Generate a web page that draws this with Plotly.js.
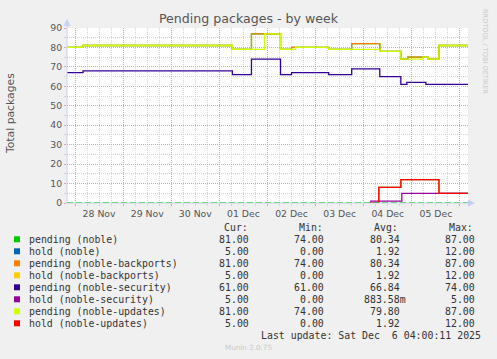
<!DOCTYPE html>
<html><head><meta charset="utf-8">
<script src="https://cdn.plot.ly/plotly-3.0.1.min.js"></script>
<style>html,body{margin:0;padding:0;background:#f0f0f0;}</style>
</head><body><div id="chart" style="width:497px;height:359px;"></div>
<script>
// ---------- data ----------
const seriesNames = ['pending (noble)', 'hold (noble)', 'pending (noble-backports)', 'hold (noble-backports)',
  'pending (noble-security)', 'hold (noble-security)', 'pending (noble-updates)', 'hold (noble-updates)'];

const pendingNobleTimes = ['2025-11-27 20:00','2025-11-28 04:00','2025-12-01 06:30','2025-12-01 16:00','2025-12-02 06:30','2025-12-02 12:00','2025-12-03 06:30','2025-12-03 18:00','2025-12-04 08:00','2025-12-04 18:30','2025-12-04 22:00','2025-12-05 08:00','2025-12-05 13:30','2025-12-06 04:00'];
const pendingNobleValues = [80,81,79,87,79,80,79,82,78,74,75,74,81,81];

const pendingBackportsTimes = ['2025-11-27 20:00','2025-11-28 04:00','2025-12-01 06:30','2025-12-01 16:00','2025-12-02 06:30','2025-12-02 12:00','2025-12-03 06:30','2025-12-03 18:00','2025-12-04 08:00','2025-12-04 18:30','2025-12-04 22:00','2025-12-05 08:00','2025-12-05 13:30','2025-12-06 04:00'];
const pendingBackportsValues = [80,81,79,87,79,80,79,82,78,74,75,74,81,81];

const pendingSecurityTimes = ['2025-11-27 20:00','2025-11-28 04:00','2025-12-01 06:30','2025-12-01 16:00','2025-12-02 06:30','2025-12-02 12:00','2025-12-03 06:30','2025-12-03 18:00','2025-12-04 08:00','2025-12-04 18:30','2025-12-04 21:30','2025-12-05 07:00','2025-12-06 04:00'];
const pendingSecurityValues = [67,68,66,74,66,67,66,69,65,61,62,61,61];

const pendingUpdatesTimes = ['2025-11-27 20:00','2025-11-28 04:00','2025-12-01 06:30','2025-12-01 22:30','2025-12-02 06:30','2025-12-02 14:00','2025-12-03 06:30','2025-12-04 08:00','2025-12-04 18:30','2025-12-05 05:30','2025-12-05 08:00','2025-12-05 13:30','2025-12-06 04:00'];
const pendingUpdatesValues = [80,81,79,87,79,80,79,78,74,75,74,81,81];

const holdNobleTimes = ['2025-12-04 03:00','2025-12-04 07:30','2025-12-04 18:30','2025-12-05 13:30','2025-12-06 04:00'];
const holdNobleValues = [0,8,12,5,5];
const holdBackportsTimes = ['2025-12-04 03:00','2025-12-04 07:30','2025-12-04 18:30','2025-12-05 13:30','2025-12-06 04:00'];
const holdBackportsValues = [0,8,12,5,5];
const holdUpdatesTimes = ['2025-12-04 03:00','2025-12-04 07:30','2025-12-04 18:30','2025-12-05 13:30','2025-12-06 04:00'];
const holdUpdatesValues = [0,8,12,5,5];
const holdSecurityTimes = ['2025-12-04 03:00','2025-12-04 03:30','2025-12-04 19:00','2025-12-06 04:00'];
const holdSecurityValues = [0,1,5,5];

const curValues = [81,5,81,5,61,5,81,5];
const minValues = [74,0,74,0,61,0,74,0];
const avgValues = [80.34,1.92,80.34,1.92,66.84,0.88358,79.80,1.92];
const maxValues = [87,12,87,12,74,5,87,12];
const lastUpdate = 'Sat Dec\u00a0 6 04:00:11 2025';
const xRange = ['2025-11-27 20:00','2025-12-06 04:00'];

// ---------- styles ----------
const seriesColors = ['#00cc00','#0066b3','#ff8000','#ffcc00','#330099','#990099','#ccff00','#ff0000'];
const seriesTimes = [pendingNobleTimes, holdNobleTimes, pendingBackportsTimes, holdBackportsTimes, pendingSecurityTimes, holdSecurityTimes, pendingUpdatesTimes, holdUpdatesTimes];
const seriesValues = [pendingNobleValues, holdNobleValues, pendingBackportsValues, holdBackportsValues, pendingSecurityValues, holdSecurityValues, pendingUpdatesValues, holdUpdatesValues];

const W = 497, H = 359, L = 67, R = 29, T = 28, B = 156;
const PW = W - L - R, PH = H - T - B;
const px = x => (x - L) / PW;
const py = y => (H - B - y) / PH;

const MGRID = '#e4a4a4', GRID = '#d4d4d4', AXIS = '#c8cff4';
const mono = 'DejaVu Sans Mono';
const sans = 'DejaVu Sans';

const traces = seriesNames.map((n, i) => ({
  type: 'scatter', mode: 'lines', name: n,
  x: seriesTimes[i], y: seriesValues[i],
  line: {color: seriesColors[i], width: 1.3, shape: 'hv', simplify: false},
  hoverinfo: 'skip', showlegend: false
}));

function fmt(v) {
  if (v !== 0 && Math.abs(v) < 1) return {t: (v * 1000).toFixed(2) + 'm', s: true};
  return {t: v.toFixed(2), s: false};
}

const annotations = [];
const shapes = [];
const CW = 5.95;
const legFont = {family: mono, size: 9.9, color: '#333'};
const colStarts = [222, 297, 372, 447];
const colEnds = [251, 326, 402, 477];
['Cur:', 'Min:', 'Avg:', 'Max:'].forEach((h, j) => {
  annotations.push({xref: 'paper', yref: 'paper', x: px(colStarts[j]), y: py(227.3), text: h,
    xanchor: 'left', yanchor: 'middle', showarrow: false, font: legFont});
});
const cols = [curValues, minValues, avgValues, maxValues];
seriesNames.forEach((n, i) => {
  const yy = 239.3 + 12 * i;
  annotations.push({xref: 'paper', yref: 'paper', x: px(26.5), y: py(yy), text: n,
    xanchor: 'left', yanchor: 'middle', showarrow: false, font: legFont});
  shapes.push({type: 'rect', xref: 'paper', yref: 'paper', x0: px(14), x1: px(20), y0: py(yy - 3), y1: py(yy + 3),
    fillcolor: seriesColors[i], line: {width: 0}});
  cols.forEach((c, j) => {
    const f = fmt(c[i]);
    annotations.push({xref: 'paper', yref: 'paper', x: px(colEnds[j] + (f.s ? CW : 0)), y: py(yy), text: f.t,
      xanchor: 'right', yanchor: 'middle', showarrow: false, font: legFont});
  });
});
annotations.push({xref: 'paper', yref: 'paper', x: px(482.5), y: py(335.7), text: 'Last update: ' + lastUpdate,
  xanchor: 'right', yanchor: 'middle', showarrow: false, font: legFont});
annotations.push({xref: 'paper', yref: 'paper', x: px(248), y: py(347.5), text: 'Munin 2.0.75',
  xanchor: 'center', yanchor: 'middle', showarrow: false, font: {family: sans, size: 7.2, color: '#c8c8c8'}});
annotations.push({xref: 'paper', yref: 'paper', x: px(485), y: py(52), text: 'RRDTOOL / TOBI OETIKER', textangle: 90,
  xanchor: 'center', yanchor: 'middle', showarrow: false, font: {family: sans, size: 6.6, color: '#c8c8c8'}});
annotations.push({xref: 'paper', yref: 'paper', x: px(10), y: py(114), text: 'Total packages', textangle: -90,
  xanchor: 'center', yanchor: 'middle', showarrow: false, font: {family: sans, size: 10.8, color: '#555'}});

// axis extension + arrows
shapes.push({type: 'line', xref: 'paper', yref: 'paper', x0: px(67), x1: px(67), y0: py(203), y1: py(22), line: {color: AXIS, width: 1}});
shapes.push({type: 'path', xref: 'paper', yref: 'paper',
  path: `M ${px(67)} ${py(19)} L ${px(63.5)} ${py(26)} L ${px(70.5)} ${py(26)} Z`, fillcolor: AXIS, line: {width: 0}});
shapes.push({type: 'line', xref: 'paper', yref: 'paper', x0: px(67), x1: px(470), y0: py(203), y1: py(203), line: {color: AXIS, width: 1}});
shapes.push({type: 'path', xref: 'paper', yref: 'paper',
  path: `M ${px(475)} ${py(203)} L ${px(468)} ${py(199.5)} L ${px(468)} ${py(206.5)} Z`, fillcolor: AXIS, line: {width: 0}});
// zero line (green dashed, as in reference)
shapes.push({type: 'line', xref: 'paper', yref: 'y', x0: 0, x1: 1, y0: 0, y1: 0, line: {color: '#00cc00', width: 1.2, dash: '6px,3px'}});

const layout = {
  width: W, height: H,
  margin: {l: L, r: R, t: T, b: B, pad: 0},
  paper_bgcolor: '#f0f0f0', plot_bgcolor: '#ffffff',
  title: {text: 'Pending packages - by week', font: {family: sans, size: 12.6, color: '#555'},
    xref: 'container', x: 0.5, xanchor: 'center', yref: 'container', y: 1 - 19 / H, yanchor: 'middle'},
  xaxis: {
    type: 'date', range: xRange, autorange: false,
    tick0: '2025-11-28 00:00', dtick: 86400000, tickformat: '%d %b', ticklabelmode: 'period',
    showgrid: true, gridcolor: MGRID, griddash: '1px,1px', gridwidth: 1,
    ticks: 'outside', ticklen: 2, tickcolor: MGRID, tickwidth: 1,
    minor: {dtick: 21600000, showgrid: true, gridcolor: GRID, griddash: '1px,1px', ticks: 'outside', ticklen: 2, tickcolor: GRID},
    showline: false, zeroline: false,
    tickfont: {family: sans, size: 9.3, color: '#555'}
  },
  yaxis: {
    range: [0, 90], autorange: false, dtick: 10, tick0: 0,
    showgrid: true, gridcolor: MGRID, griddash: '1px,1px', gridwidth: 1,
    ticks: 'outside', ticklen: 2, tickcolor: MGRID,
    minor: {dtick: 5, showgrid: true, gridcolor: GRID, griddash: '1px,1px', ticks: 'outside', ticklen: 2, tickcolor: GRID},
    showline: false, zeroline: false,
    tickfont: {family: sans, size: 9.3, color: '#555'}
  },
  showlegend: false,
  annotations: annotations,
  shapes: shapes
};

Plotly.newPlot('chart', traces, layout, {staticPlot: true, displayModeBar: false});
</script>
</body></html>
